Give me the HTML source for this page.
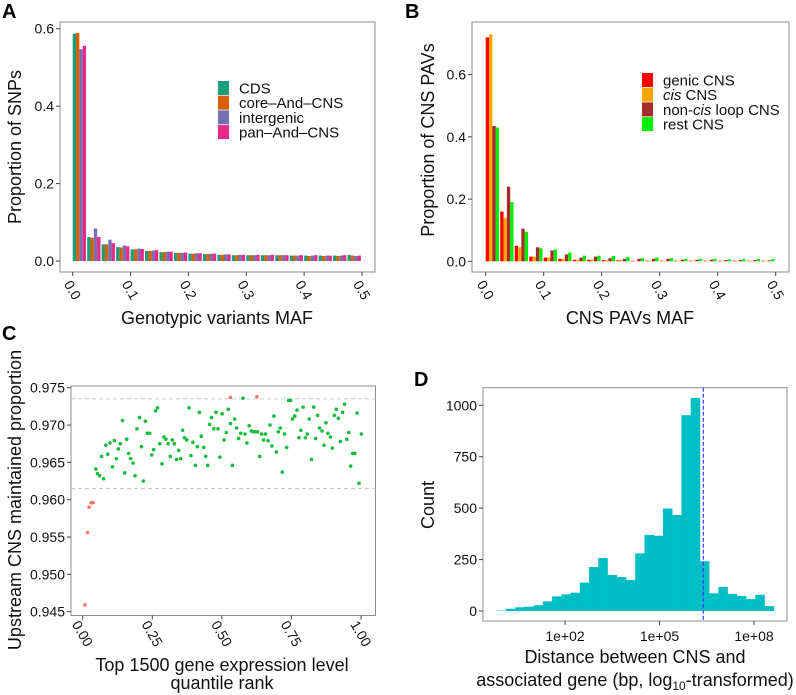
<!DOCTYPE html>
<html><head><meta charset="utf-8"><style>
html,body{margin:0;padding:0;background:#fff;}
svg{display:block;font-family:"Liberation Sans",Arial,sans-serif;}
</style></head><body>
<svg id="fig" width="796" height="695" viewBox="0 0 796 695" xmlns="http://www.w3.org/2000/svg">
<g id="gA"></g>
<g id="gB"></g>
<g id="gC"></g>
<g id="gD"></g>
</svg>
<script>
// ---------- Panel A data ----------
const aTicks = [0, 0.1, 0.2, 0.3, 0.4, 0.5];
const aYTicks = [0, 0.2, 0.4, 0.6];
const aSeriesNames = ["CDS", "core\u2013And\u2013CNS", "intergenic", "pan\u2013And\u2013CNS"];
const aCDS = [.587,.062,.043,.036,.030,.026,.023,.021,.019,.018,.016,.015,.015,.015,.015,.014,.014,.014,.014,.016];
const aCore = [.589,.060,.043,.035,.030,.026,.023,.021,.019,.018,.016,.015,.015,.015,.015,.014,.013,.013,.013,.014];
const aInter = [.547,.084,.055,.040,.032,.027,.024,.021,.020,.019,.017,.016,.015,.015,.015,.014,.014,.014,.014,.013];
const aPan = [.556,.062,.046,.038,.031,.028,.024,.022,.020,.019,.017,.016,.016,.016,.015,.015,.015,.014,.015,.014];
// ---------- Panel B data ----------
const bTicks = [0, 0.1, 0.2, 0.3, 0.4, 0.5];
const bYTicks = [0, 0.2, 0.4, 0.6];
const bGenic = [.72,.16,.05,.015,.012,.008,.005,.005,.004,.003,.002,.002,.002,.002,.002,.002,.002,.002,.002,.002];
const bCis = [.73,.14,.045,.015,.012,.008,.005,.005,.004,.004,.002,.002,.002,.002,.002,.002,.002,.002,.002,.002];
const bNonCis = [.435,.24,.105,.045,.035,.022,.012,.015,.010,.008,.008,.008,.008,.005,.005,.005,.004,.004,.004,.003];
const bRest = [.43,.19,.095,.042,.038,.028,.018,.018,.017,.014,.010,.012,.010,.008,.008,.008,.006,.007,.008,.007];
// ---------- Panel C data ----------
const cXTicks = [0, 0.25, 0.5, 0.75, 1.0];
const cXTickLabels = ["0.00","0.25","0.50","0.75","1.00"];
const cYTicks = [0.945,0.950,0.955,0.960,0.965,0.970,0.975];
const cRefLines = [0.9735, 0.9615];
const cRedX = [.008,.017,.023,.030,.038,.531,.626];
const cRedY = [.9459,.9556,.9590,.9596,.9596,.9737,.9738];
const cGreenX = [.047,.053,.061,.068,.075,.083,.090,.098,.107,.114,.121,.128,.135,.143,.151,.158,.165,.172,.181,.188,.195,.204,.211,.218,.225,.232,.241,.248,.255,.262,.269,.277,.285,.292,.299,.307,.315,.322,.329,.337,.345,.352,.359,.366,.374,.382,.389,.396,.405,.412,.419,.426,.435,.442,.449,.456,.463,.471,.479,.486,.493,.501,.508,.516,.523,.531,.538,.546,.553,.560,.568,.576,.583,.590,.598,.606,.613,.620,.628,.636,.643,.650,.657,.666,.673,.680,.687,.696,.703,.710,.717,.725,.733,.740,.747,.754,.762,.770,.777,.784,.792,.800,.807,.814,.822,.830,.837,.844,.851,.860,.867,.874,.881,.890,.897,.904,.911,.919,.926,.934,.941,.949,.956,.963,.970,.978,.986,.993,1.001];
const cGreenY = [.9641,.9635,.9632,.9658,.9628,.9673,.9661,.9676,.9644,.9679,.9655,.9668,.9675,.9706,.9636,.9681,.9662,.9655,.9649,.9632,.9695,.9710,.9671,.9625,.9705,.9689,.9689,.9660,.9667,.9719,.9723,.9675,.9648,.9684,.9681,.9675,.9658,.9680,.9675,.9654,.9666,.9655,.9693,.9683,.9680,.9723,.9659,.9677,.9646,.9671,.9717,.9685,.9670,.9658,.9646,.9701,.9710,.9695,.9717,.9695,.9657,.9715,.9680,.9690,.9721,.9702,.9646,.9708,.9696,.9682,.9689,.9736,.9688,.9676,.9699,.9692,.9691,.9691,.9691,.9658,.9688,.9680,.9688,.9679,.9700,.9672,.9712,.9664,.9691,.9696,.9637,.9688,.9670,.9733,.9733,.9708,.9712,.9720,.9683,.9693,.9724,.9683,.9688,.9708,.9654,.9724,.9682,.9713,.9696,.9692,.9673,.9703,.9689,.9684,.9669,.9713,.9721,.9709,.9678,.9717,.9728,.9681,.9690,.9645,.9662,.9662,.9716,.9622,.9688];
// ---------- Panel D data ----------
const dLogStart = -0.17;
const dBinWidth = 0.2933;
const dCounts = [2,11,18,21,28,47,71,81,89,138,214,258,175,165,151,280,370,366,498,467,952,1036,242,86,117,83,73,58,79,24];
const dXTicks = [2, 5, 8];
const dXTickLabels = ["1e+02","1e+05","1e+08"];
const dYTicks = [0, 250, 500, 750, 1000];
const dVLine = 6.39;

const NS = "http://www.w3.org/2000/svg";
function mk(parent, tag, attrs, text) {
  const e = document.createElementNS(NS, tag);
  for (const k in attrs) e.setAttribute(k, attrs[k]);
  if (text !== undefined) e.textContent = text;
  parent.appendChild(e);
  return e;
}
function lin(d0, d1, r0, r1) { return v => r0 + (v - d0) * (r1 - r0) / (d1 - d0); }
function frame(g, x0, y0, x1, y1) {
  const r = mk(g, "rect", {x:x0, y:y0, width:x1-x0, height:y1-y0, fill:"#fff", stroke:"#8c8c8c", "stroke-width":1});
  
  
}
function yAxis(g, ticks, labels, ys, x0) {
  ticks.forEach((t, i) => {
    const l = mk(g, "line", {x1:x0-4, x2:x0, y1:ys(t), y2:ys(t), stroke:"#444", "stroke-width":1});
    
    
    const tx = mk(g, "text", {x:x0-6, y:ys(t)+5, "text-anchor":"end", "font-size":14, fill:"#111"}, labels[i]);
    
    
  });
}
function xAxisRot(g, ticks, labels, xs, y1) {
  ticks.forEach((t, i) => {
    const l = mk(g, "line", {x1:xs(t), x2:xs(t), y1:y1, y2:y1+4, stroke:"#444", "stroke-width":1});
    
    
    const cx = xs(t), cy = y1 + 18;
    const tx = mk(g, "text", {x:cx, y:cy+5, "text-anchor":"middle", "font-size":14, fill:"#111", transform:`rotate(60 ${cx} ${cy})`}, labels[i]);
    
    
  });
}
function title(g, x, y, txt, size, rot, name) {
  const attrs = {x:x, y:y, "text-anchor":"middle", "font-size":size, fill:"#111"};
  if (rot) attrs.transform = `rotate(-90 ${x} ${y})`;
  const t = mk(g, "text", attrs, txt);
  
  
  return t;
}
function panelLetter(g, x, y, s) {
  const t = mk(g, "text", {x:x, y:y, "font-size":20, "font-weight":"bold", fill:"#000"}, s);
  
  
}
function barPanel(g, xs, ys, series, colors, bw) {
  series.forEach((arr, si) => {
    arr.forEach((v, i) => {
      const gx0 = xs(i * bw), gw = (xs(bw) - xs(0)) * 0.92;
      const w = gw / series.length;
      const r = mk(g, "rect", {x:gx0 + si*w, y:ys(v), width:w, height:ys(0)-ys(v), fill:colors[si]});
      
      
    });
  });
}
function legend(g, x, y, names, colors, dy) {
  names.forEach((n, i) => {
    const r = mk(g, "rect", {x:x, y:y + i*dy - 7, width:11, height:14, fill:colors[i]});
    
    
    const t = mk(g, "text", {x:x+21, y:y + i*dy + 5.5, "font-size":15, fill:"#111"});
    
    
    if (Array.isArray(n)) {
      n.forEach(p => { mk(t, "tspan", p.i ? {"font-style":"italic"} : {}, p.t); });
    } else t.textContent = n;
  });
}

// ---- Panel A ----
(function(){
  const g = document.getElementById("gA");
  const X0=60, X1=375, Y0=22, Y1=272;
  frame(g, X0, Y0, X1, Y1);
  const xs = lin(0, 0.5, 72.7, 362), ys = lin(0, 0.6, 261, 28.7);
  const colors = ["#1b9e77","#d95f02","#7570b3","#e7298a"];
  barPanel(g, xs, ys, [aCDS, aCore, aInter, aPan], colors, 0.025);
  yAxis(g, aYTicks, aYTicks.map(v=>v.toFixed(1)), ys, X0);
  xAxisRot(g, aTicks, aTicks.map(v=>v.toFixed(1)), xs, Y1);
  legend(g, 218, 88, aSeriesNames, colors, 14.7);
  title(g, 217, 324, "Genotypic variants MAF", 18, false, "x-axis-title");
  title(g, 21, 147, "Proportion of SNPs", 18, true, "y-axis-title");
  panelLetter(g, 2, 18, "A");
})();
// ---- Panel B ----
(function(){
  const g = document.getElementById("gB");
  const X0=472, X1=789, Y0=22, Y1=272;
  frame(g, X0, Y0, X1, Y1);
  const xs = lin(0, 0.5, 485.7, 775.7), ys = lin(0, 0.6, 261.3, 74.7);
  const colors = ["#ff0000","#ffa500","#a52a2a","#00ee00"];
  barPanel(g, xs, ys, [bGenic, bCis, bNonCis, bRest], colors, 0.025);
  yAxis(g, bYTicks, bYTicks.map(v=>v.toFixed(1)), ys, X0);
  xAxisRot(g, bTicks, bTicks.map(v=>v.toFixed(1)), xs, Y1);
  legend(g, 642, 80, ["genic CNS", [{t:"cis",i:1},{t:" CNS"}], [{t:"non-"},{t:"cis",i:1},{t:" loop CNS"}], "rest CNS"], colors, 14.7);
  title(g, 630, 324, "CNS PAVs MAF", 18, false, "x-axis-title");
  title(g, 434, 140, "Proportion of CNS PAVs", 18, true, "y-axis-title");
  panelLetter(g, 405, 18, "B");
})();
// ---- Panel C ----
(function(){
  const g = document.getElementById("gC");
  const X0=71, X1=375.5, Y0=386, Y1=615.5;
  frame(g, X0, Y0, X1, Y1);
  const xs = lin(0, 1, 82.7, 361), ys = lin(0.945, 0.975, 611.7, 387.7);
  cRefLines.forEach(v => {
    const l = mk(g, "line", {x1:X0, x2:X1, y1:ys(v), y2:ys(v), stroke:"#c8c8c8", "stroke-dasharray":"4,3", "stroke-width":1});
    
    
  });
  const n = Math.min(cGreenX.length, cGreenY.length);
  for (let i = 0; i < n; i++) {
    const c = mk(g, "circle", {cx:xs(cGreenX[i]), cy:ys(cGreenY[i]), r:1.8, fill:"#16bb3c"});
    
    
  }
  cRedX.forEach((x, i) => {
    const c = mk(g, "circle", {cx:xs(x), cy:ys(cRedY[i]), r:1.8, fill:"#f8766d"});
    
    
  });
  yAxis(g, cYTicks, cYTicks.map(v=>v.toFixed(3)), ys, X0);
  xAxisRot(g, cXTicks, cXTickLabels, xs, Y1);
  title(g, 222, 671, "Top 1500 gene expression level", 18, false, "x-axis-title");
  title(g, 222, 689, "quantile rank", 18, false, "x-axis-title-line2");
  title(g, 21, 500, "Upstream CNS maintained proportion", 18, true, "y-axis-title");
  panelLetter(g, 2, 340, "C");
})();
// ---- Panel D ----
(function(){
  const g = document.getElementById("gD");
  const X0=483, X1=787, Y0=387.7, Y1=621;
  frame(g, X0, Y0, X1, Y1);
  const xs = lin(2, 8, 565, 754), ys = lin(0, 1000, 611, 405.3);
  dCounts.forEach((v, i) => {
    const a = dLogStart + i*dBinWidth, b = a + dBinWidth;
    const r = mk(g, "rect", {x:xs(a), y:ys(v), width:xs(b)-xs(a)+0.3, height:ys(0)-ys(v), fill:"#00bfc4"});
    
    
  });
  const vl = mk(g, "line", {x1:xs(dVLine), x2:xs(dVLine), y1:Y0, y2:Y1, stroke:"#3a3aff", "stroke-dasharray":"4,2", "stroke-width":1.2});
  
  
  yAxis(g, dYTicks, dYTicks.map(String), ys, X0);
  dXTicks.forEach((t, i) => {
    const l = mk(g, "line", {x1:xs(t), x2:xs(t), y1:Y1, y2:Y1+4, stroke:"#444"});
    
    
    const tx = mk(g, "text", {x:xs(t), y:Y1+20, "text-anchor":"middle", "font-size":14, fill:"#111"}, dXTickLabels[i]);
    
    
  });
  title(g, 635, 663, "Distance between CNS and", 18, false, "x-axis-title");
  const t2 = title(g, 635, 686, "", 18, false, "x-axis-title-line2");
  mk(t2, "tspan", {}, "associated gene (bp, log");
  mk(t2, "tspan", {"font-size":12, dy:4}, "10");
  mk(t2, "tspan", {dy:-4}, "-transformed)");
  title(g, 434, 505, "Count", 18, true, "y-axis-title");
  panelLetter(g, 414, 386, "D");
})();
</script>
</body></html>
